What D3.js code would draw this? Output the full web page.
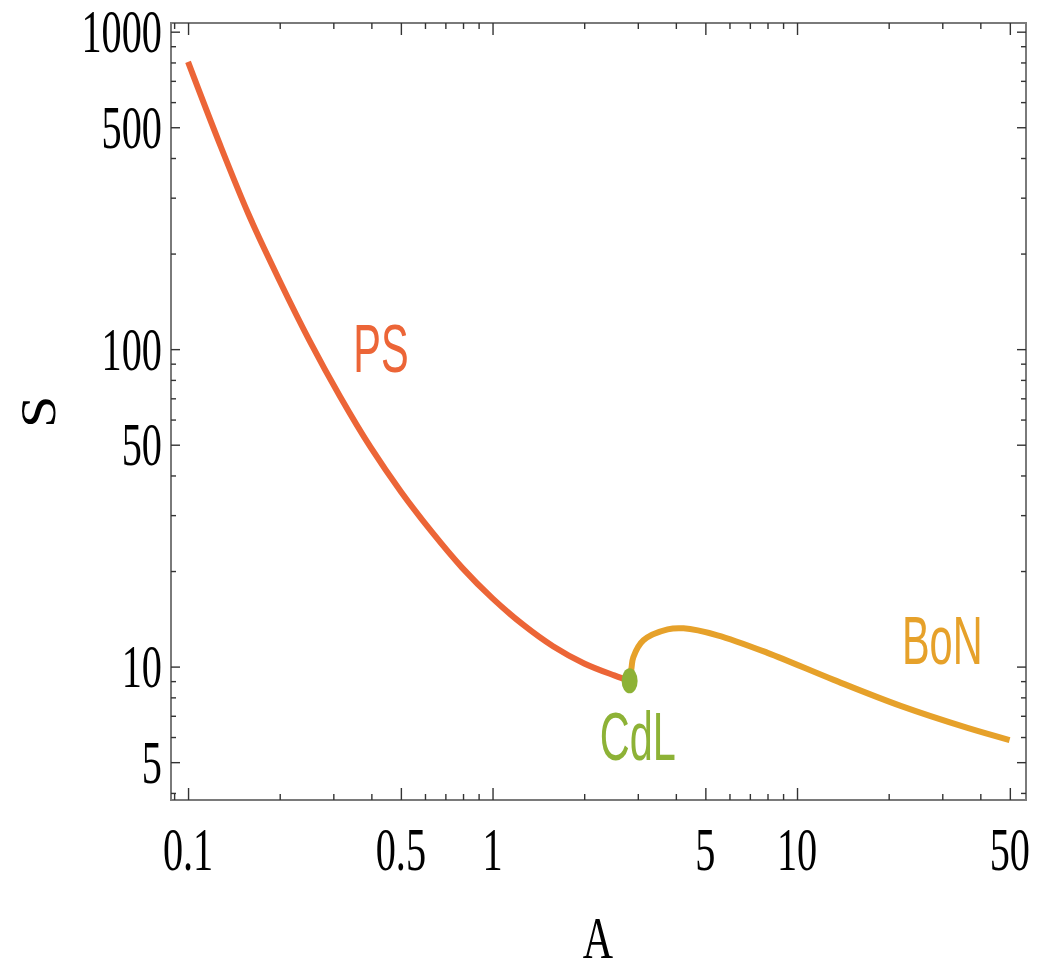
<!DOCTYPE html>
<html><head><meta charset="utf-8">
<script src="https://cdn.jsdelivr.net/npm/d3@7"></script>
<style>html,body{margin:0;padding:0;background:#fff;}svg{display:block;}</style>
</head><body>
<script>
// ---- data ----
const psA = [0.1, 0.126, 0.158, 0.2, 0.251, 0.316, 0.398, 0.501, 0.631, 0.794, 1.0, 1.26, 1.58, 2.0, 2.51, 2.82];
const psS = [803, 452, 266, 164, 106, 70.8, 49.0, 35.5, 26.6, 20.5, 16.4, 13.55, 11.59, 10.23, 9.38, 9.02];
const bonA = [2.82, 2.86, 2.90, 3.13, 3.76, 4.24, 5.48, 8.00, 13.2, 21.9, 36.3, 49.9];
const bonS = [9.02, 9.9, 10.7, 12.1, 13.1, 13.2, 12.55, 11.05, 9.08, 7.52, 6.41, 5.87];
const cdlA = [2.82];
const cdlS = [9.02];
const xMajorTicks = [0.1, 0.5, 1, 5, 10, 50];
const xMajorLabels = ["0.1", "0.5", "1", "5", "10", "50"];
const xMinorTicks = [0.09, 0.2, 0.3, 0.4, 0.6, 0.7, 0.8, 0.9, 2, 3, 4, 6, 7, 8, 9, 20, 30, 40];
const yMajorTicks = [5, 10, 50, 100, 500, 1000];
const yMajorLabels = ["5", "10", "50", "100", "500", "1000"];
const yMinorTicks = [4, 6, 7, 8, 9, 20, 30, 40, 60, 70, 80, 90, 200, 300, 400, 600, 700, 800, 900];
const curveLabels = [
  {text: "PS", A: 0.43, S: 85, color: "#EC6537"},
  {text: "CdL", A: 3.0, S: 5.08, color: "#8DB236"},
  {text: "BoN", A: 30, S: 10.2, color: "#E6A12A"}
];

// ---- layout ----
const W = 1042, H = 967;
const L = 171, R = 1026, T = 23, B = 800;
const svg = d3.select("body").append("svg").attr("width", W).attr("height", H);
const x = d3.scaleLog().domain([0.0879, 56.5]).range([L, R]);
const y = d3.scaleLog().domain([3.8, 1065]).range([B, T]);

const serif = "'Liberation Serif','Times New Roman',serif";
const sans = "'Liberation Sans',Arial,sans-serif";
const tickCol = "#333";

// frame
svg.append("rect").attr("x", L).attr("y", T).attr("width", R - L).attr("height", B - T)
  .attr("fill", "none").attr("stroke", "#7a7a7a").attr("stroke-width", 2);

function ticks(gen, vals, size, tr) {
  const g = svg.append("g").attr("transform", tr)
    .call(gen.tickValues(vals).tickSize(size).tickFormat(""));
  g.select(".domain").remove();
  g.selectAll(".tick line").attr("stroke", tickCol).attr("stroke-width", 1.4);
}
// bottom & top
ticks(d3.axisTop(x), xMajorTicks, 12, `translate(0,${B})`);
ticks(d3.axisTop(x), xMinorTicks, 6, `translate(0,${B})`);
ticks(d3.axisBottom(x), xMajorTicks, 12, `translate(0,${T})`);
ticks(d3.axisBottom(x), xMinorTicks, 6, `translate(0,${T})`);
// left & right
ticks(d3.axisRight(y), yMajorTicks, 9, `translate(${L},0)`);
ticks(d3.axisRight(y), yMinorTicks, 5, `translate(${L},0)`);
ticks(d3.axisLeft(y), yMajorTicks, 9, `translate(${R},0)`);
ticks(d3.axisLeft(y), yMinorTicks, 5, `translate(${R},0)`);

// tick labels
svg.append("g").selectAll("text").data(xMajorTicks).join("text")
  .attr("transform", d => `translate(${x(d)},870) scale(0.66,1)`)
  .attr("text-anchor", "middle").attr("font-family", serif).attr("font-size", 61)
  .attr("fill", "#000").text((d, i) => xMajorLabels[i]);
svg.append("g").selectAll("text").data(yMajorTicks).join("text")
  .attr("transform", d => `translate(162,${y(d) + 20.5}) scale(0.66,1)`)
  .attr("text-anchor", "end").attr("font-family", serif).attr("font-size", 61)
  .attr("fill", "#000").text((d, i) => yMajorLabels[i]);

// axis titles
svg.append("text").attr("transform", "translate(598,958) scale(0.7,1)")
  .attr("text-anchor", "middle").attr("font-family", serif).attr("font-size", 60).text("A");
svg.append("text").attr("transform", "translate(55,412) rotate(-90) scale(1,0.87)")
  .attr("text-anchor", "middle").attr("font-family", serif).attr("font-size", 58).text("S");

// curves
const line = d3.line().x(d => x(d[0])).y(d => y(d[1])).curve(d3.curveCatmullRom.alpha(0.5));
svg.append("path").attr("d", line(psA.map((a, i) => [a, psS[i]])))
  .attr("fill", "none").attr("stroke", "#EC6537").attr("stroke-width", 6).attr("stroke-linecap", "butt");
svg.append("path").attr("d", line(bonA.map((a, i) => [a, bonS[i]])))
  .attr("fill", "none").attr("stroke", "#E6A12A").attr("stroke-width", 6).attr("stroke-linecap", "butt");
svg.append("g").selectAll("ellipse").data(cdlA).join("ellipse")
  .attr("cx", d => x(d)).attr("cy", (d, i) => y(cdlS[i])).attr("rx", 8).attr("ry", 12.5)
  .attr("fill", "#8DB236");

// curve labels
svg.append("g").selectAll("text").data(curveLabels).join("text")
  .attr("transform", d => `translate(${x(d.A)},${y(d.S)}) scale(0.61,1)`)
  .attr("text-anchor", "middle").attr("font-family", sans).attr("font-size", 68)
  .attr("fill", d => d.color).text(d => d.text);
</script>
</body></html>
